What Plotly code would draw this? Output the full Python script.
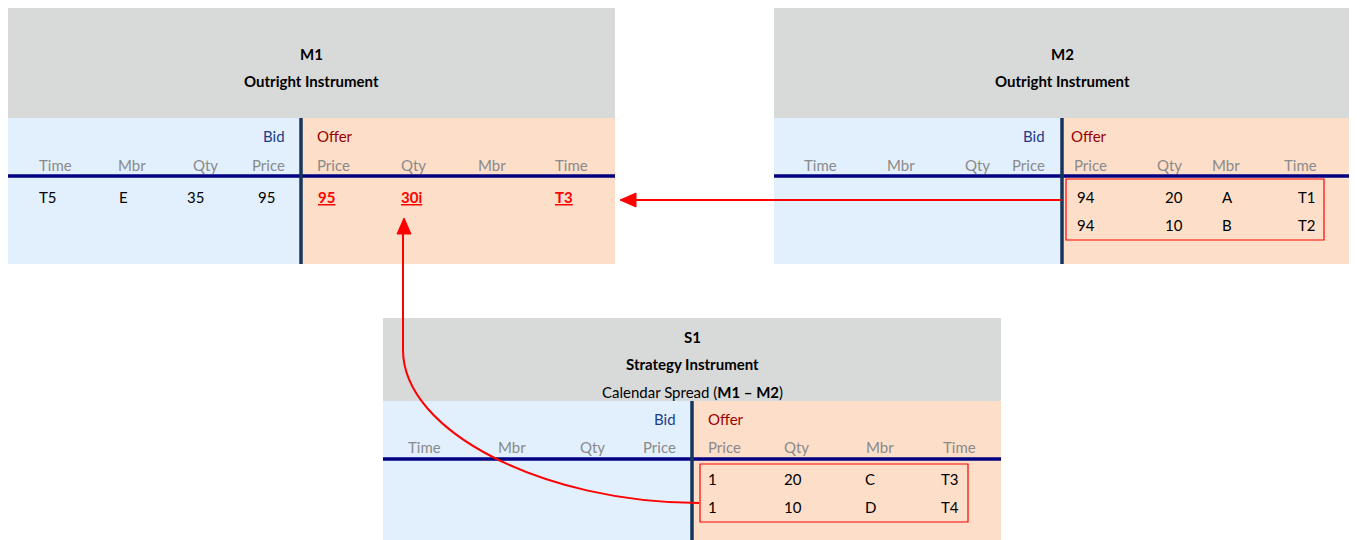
import plotly.graph_objects as go

# ---------------- data ----------------
bid_columns = ["Time", "Mbr", "Qty", "Price"]
offer_columns = ["Price", "Qty", "Mbr", "Time"]

m1_title = ["M1", "Outright Instrument"]
m1_bid_rows = [["T5", "E", "35", "95"]]
m1_offer_rows = [["95", "30i", "", "T3"]]

m2_title = ["M2", "Outright Instrument"]
m2_bid_rows = []
m2_offer_rows = [["94", "20", "A", "T1"], ["94", "10", "B", "T2"]]

s1_title = ["S1", "Strategy Instrument", "Calendar Spread (<b>M1 – M2</b>)"]
s1_bid_rows = []
s1_offer_rows = [["1", "20", "C", "T3"], ["1", "10", "D", "T4"]]

# ---------------- styles ----------------
FONT = "Lato"
GREY = "#D8D9D9"
BLUE = "#E2F0FD"
PEACH = "#FDDFC9"
NAVY_H = "#000080"
NAVY_V = "#17365D"
BID_C = "#1F3C88"
OFFER_C = "#990000"
HDR_C = "#8A8A8A"
RED = "#FF0000"
FS = 15

shapes = []
annotations = []


def txt(x, y, s, anchor="center", color="black", size=FS, bold=False):
    if bold:
        s = "<b>" + s + "</b>"
    annotations.append(dict(x=x, y=y, text=s, showarrow=False, xanchor=anchor,
                            yanchor="middle", font=dict(family=FONT, size=size, color=color),
                            xref="x", yref="y"))


def panel(p, title, bid_rows, offer_rows, highlight=False):
    x0, x1, y0, yh, y1, xd, yl = p["x0"], p["x1"], p["y0"], p["yh"], p["y1"], p["xdiv"], p["yline"]
    shapes.append(dict(type="rect", x0=x0, x1=x1, y0=y0, y1=yh, fillcolor=GREY, line_width=0, layer="below"))
    shapes.append(dict(type="rect", x0=x0, x1=xd, y0=yh, y1=y1, fillcolor=BLUE, line_width=0, layer="below"))
    shapes.append(dict(type="rect", x0=xd, x1=x1, y0=yh, y1=y1, fillcolor=PEACH, line_width=0, layer="below"))
    shapes.append(dict(type="line", x0=x0, x1=x1, y0=yl, y1=yl, line=dict(color=NAVY_H, width=3.5)))
    shapes.append(dict(type="line", x0=xd, x1=xd, y0=yh, y1=y1, line=dict(color=NAVY_V, width=3.5)))
    for i, t in enumerate(title):
        txt((x0 + x1) / 2, p["title_y"][i], t, bold=(i < 2))
    txt(p["bid_x"], p["lab_y"], "Bid", anchor="right", color=BID_C)
    txt(p["offer_x"], p["lab_y"], "Offer", anchor="left", color=OFFER_C)
    for c, (x, a) in zip(bid_columns, p["bid_hdr"]):
        txt(x, p["hdr_y"], c, anchor=a, color=HDR_C)
    for c, (x, a) in zip(offer_columns, p["offer_hdr"]):
        txt(x, p["hdr_y"], c, anchor=a, color=HDR_C)
    for r, row in enumerate(bid_rows):
        for v, (x, a) in zip(row, p["bid_dat"]):
            if v:
                txt(x, p["row_y"][r], v, anchor=a)
    for r, row in enumerate(offer_rows):
        for v, (x, a) in zip(row, p["offer_dat"]):
            if v:
                if highlight:
                    txt(x, p["row_y"][r],
                        '<b><span style="text-decoration:underline">' + v + '</span></b>',
                        anchor=a, color=RED)
                else:
                    txt(x, p["row_y"][r], v, anchor=a)
    if "box" in p:
        bx0, bx1, by0, by1 = p["box"]
        shapes.append(dict(type="rect", x0=bx0, x1=bx1, y0=by0, y1=by1,
                           line=dict(color=RED, width=1.2), fillcolor="rgba(0,0,0,0)"))


M1 = dict(x0=7, x1=615, y0=8, yh=118, y1=264, xdiv=301, yline=176,
          title_y=[54, 81], lab_y=136, hdr_y=165, row_y=[197],
          bid_x=287, offer_x=315,
          bid_hdr=[(37, "left"), (116, "left"), (191, "left"), (287, "right")],
          offer_hdr=[(315, "left"), (399, "left"), (476, "left"), (553, "left")],
          bid_dat=[(37, "left"), (117, "left"), (185, "left"), (256, "left")],
          offer_dat=[(316, "left"), (399, "left"), (476, "left"), (553, "left")])

M2 = dict(x0=774, x1=1350, y0=8, yh=118, y1=264, xdiv=1062, yline=176,
          title_y=[54, 81], lab_y=136, hdr_y=165, row_y=[197, 225],
          bid_x=1047, offer_x=1069,
          bid_hdr=[(802, "left"), (885, "left"), (963, "left"), (1047, "right")],
          offer_hdr=[(1072, "left"), (1155, "left"), (1210, "left"), (1319, "right")],
          bid_dat=[(802, "left"), (885, "left"), (963, "left"), (1047, "right")],
          offer_dat=[(1075, "left"), (1185, "right"), (1227, "center"), (1318, "right")],
          box=(1066, 1324, 179, 240))

S1 = dict(x0=383, x1=1001, y0=318, yh=401, y1=540, xdiv=692, yline=459,
          title_y=[337, 364, 392], lab_y=419, hdr_y=447, row_y=[479, 507],
          bid_x=678, offer_x=706,
          bid_hdr=[(406, "left"), (496, "left"), (578, "left"), (678, "right")],
          offer_hdr=[(706, "left"), (782, "left"), (864, "left"), (941, "left")],
          bid_dat=[(406, "left"), (496, "left"), (578, "left"), (678, "right")],
          offer_dat=[(706, "left"), (782, "left"), (863, "left"), (939, "left")],
          box=(700, 968, 464, 522))

panel(M1, m1_title, m1_bid_rows, m1_offer_rows, highlight=True)
panel(M2, m2_title, m2_bid_rows, m2_offer_rows)
panel(S1, s1_title, s1_bid_rows, s1_offer_rows)

# straight arrow M2 -> M1
shapes.append(dict(type="line", x0=1062, x1=632, y0=200, y1=200, line=dict(color=RED, width=2)))
shapes.append(dict(type="path", path="M 620 200 L 636 193 L 636 207 Z", fillcolor=RED, line=dict(color=RED, width=1)))

# curved arrow S1 -> M1 (quarter ellipse then vertical)
shapes.append(dict(type="path",
                   path="M 699 503 C 545 503 403 432 403 350 L 403 232",
                   line=dict(color=RED, width=2), fillcolor="rgba(0,0,0,0)"))
shapes.append(dict(type="path", path="M 404 218 L 397 234 L 411 234 Z", fillcolor=RED, line=dict(color=RED, width=1)))

# The page body has an 8px margin: the plotting area starts at page pixel 8,
# so the axes are set so that axis units equal page pixels.
OFF = 8
fig = go.Figure()
fig.update_layout(
    width=1357 - OFF, height=540 - OFF,
    margin=dict(l=0, r=0, t=0, b=0),
    paper_bgcolor="white", plot_bgcolor="white",
    xaxis=dict(range=[OFF, 1357], visible=False, fixedrange=True),
    yaxis=dict(range=[540, OFF], visible=False, fixedrange=True),
    shapes=shapes, annotations=annotations, showlegend=False,
)
fig.write_html("out.html")
